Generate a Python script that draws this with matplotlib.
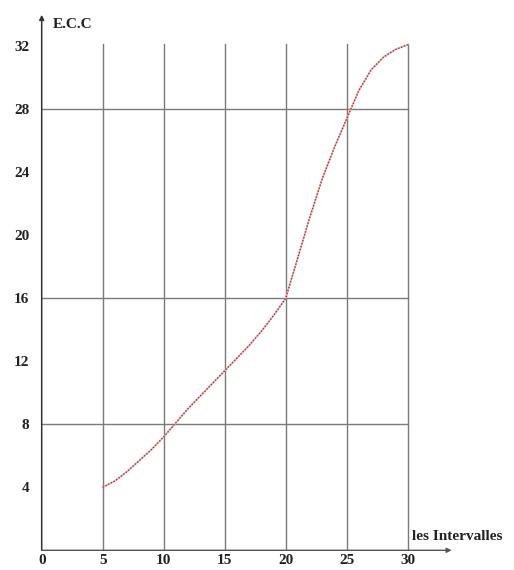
import matplotlib
matplotlib.use("Agg")
import matplotlib.pyplot as plt

# Data
x_vals = [5, 6, 7, 8, 9, 10, 11, 12, 13, 14, 15, 16, 17, 18, 19, 20,
          21, 22, 23, 24, 25, 26, 27, 28, 29, 30]
ecc_vals = [4.0, 4.4, 5.0, 5.7, 6.4, 7.2, 8.1, 9.0, 9.8, 10.6, 11.4, 12.2,
            13.0, 13.9, 14.9, 16.0, 18.6, 21.2, 23.6, 25.6, 27.4, 29.2,
            30.5, 31.3, 31.8, 32.1]
x_ticks = [0, 5, 10, 15, 20, 25, 30]
y_ticks = [4, 8, 12, 16, 20, 24, 28, 32]
h_grid = [8, 16, 28]
v_grid = [5, 10, 15, 20, 25, 30]

W, H = 514, 570
fig = plt.figure(figsize=(W / 100, H / 100), dpi=100)
fig.patch.set_facecolor("white")

px_x = 12.2   # pixels per x unit
px_y = 15.75  # pixels per y unit
x0, y0 = 41.7, 550.3
xmax, ymax = 34.0, 34.6
ax = fig.add_axes([x0 / W, (H - y0) / H, xmax * px_x / W, ymax * px_y / H])
ax.set_xlim(0, xmax)
ax.set_ylim(0, ymax)
for s in ax.spines.values():
    s.set_visible(False)

font = dict(family="Liberation Serif", fontsize=11, fontweight="bold", color="#222222")

grid_c = "#7a7a7a"
for xv in v_grid:
    ax.plot([xv, xv], [0, 32.15], color=grid_c, lw=1.0, zorder=1)
for yv in h_grid:
    ax.plot([0, 30], [yv, yv], color=grid_c, lw=1.0, zorder=1)

# axes with arrows
ax.annotate("", xy=(0, 34.0), xytext=(0, 0),
            arrowprops=dict(arrowstyle="-|>", color="#333333", lw=1.1,
                            mutation_scale=7, shrinkA=0, shrinkB=0),
            annotation_clip=False)
ax.annotate("", xy=(33.6, 0), xytext=(0, 0),
            arrowprops=dict(arrowstyle="-|>", color="#555555", lw=1.0,
                            mutation_scale=7, shrinkA=0, shrinkB=0),
            annotation_clip=False)

# curve
ax.plot(x_vals, ecc_vals, color="#f2b0b0", lw=1.2, zorder=3)
ax.plot(x_vals, ecc_vals, color="#a83232", lw=1.0, linestyle=(0, (1, 1.2)), zorder=4)

ax.set_xticks(x_ticks)
ax.set_xticklabels([str(v) for v in x_ticks], **font)
ax.set_yticks(y_ticks)
ax.set_yticklabels([str(v) for v in y_ticks], **font)
ax.tick_params(axis="both", length=0)
ax.tick_params(axis="x", pad=2.5)
ax.tick_params(axis="y", pad=9)

ax.text(0.9, 33.4, "E.C.C", ha="left", va="center", clip_on=False, **font)
ax.text(30.35, 0.85, "les Intervalles", ha="left", va="center", clip_on=False, **font)

fig.savefig("out.png", dpi=100)
